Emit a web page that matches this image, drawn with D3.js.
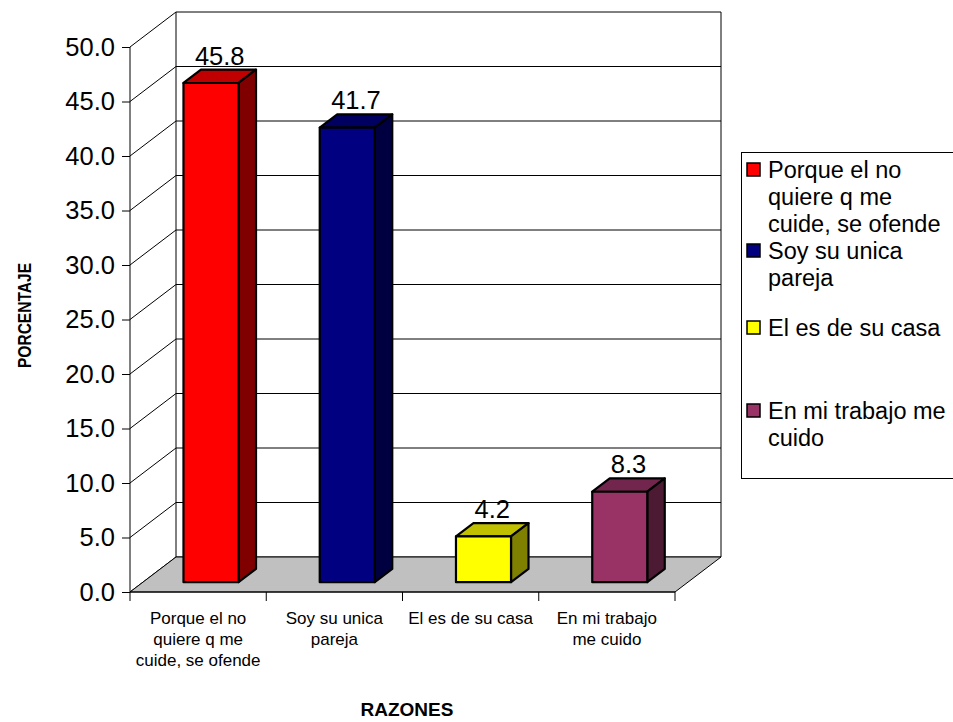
<!DOCTYPE html>
<html>
<head>
<meta charset="utf-8">
<script src="https://cdn.jsdelivr.net/npm/d3@7"></script>
<style>
  html, body { margin: 0; padding: 0; background: #fff; }
  svg { display: block; font-family: Arial, "Liberation Sans", sans-serif; }
</style>
</head>
<body>
<svg id="chart" width="953" height="722"></svg>
<script>
// Reasons and their percentages
const categories = [
  "Porque el no quiere q me cuide, se ofende",
  "Soy su unica pareja",
  "El es de su casa",
  "En mi trabajo me cuido"
];
const axisLabelLines = [
  ["Porque el no", "quiere q me", "cuide, se ofende"],
  ["Soy su unica", "pareja"],
  ["El es de su casa"],
  ["En mi trabajo", "me cuido"]
];
const legendLines = [
  ["Porque el no", "quiere q me", "cuide, se ofende"],
  ["Soy su unica", "pareja"],
  ["El es de su casa"],
  ["En mi trabajo me", "cuido"]
];
const values = [45.8, 41.7, 4.2, 8.3];
const yTicks = [0, 5, 10, 15, 20, 25, 30, 35, 40, 45, 50];

// face colours per bar: front, top, side
const frontColors = ["#ff0000", "#000080", "#ffff00", "#993366"];
const topColors   = ["#c00000", "#000060", "#c0c000", "#73264d"];
const sideColors  = ["#800000", "#000040", "#808000", "#4d1a33"];

const FONT = "Arial, 'Liberation Sans', sans-serif";
const svg = d3.select("#chart");

// plot frame (front plane)
const x0 = 130, x1 = 675;
const yBase = 592, yTop = 47;
// full depth offset of the 3D box
const DX = 46, DY = -35;
// depth of the bars inside the box (fraction of full depth)
const zFront = 0.28, zBack = 0.66;

const y = d3.scaleLinear().domain([0, 50]).range([yBase, yTop]);
const x = d3.scaleBand().domain(categories).range([x0, x1])
  .paddingInner(0.596).paddingOuter(0.298);

const P = (px, v, z) => [px + DX * z, y(v) + DY * z];
const poly = pts => "M" + pts.map(p => p.join(",")).join("L") + "Z";

// back wall
svg.append("path")
  .attr("d", poly([P(x0, 0, 1), P(x1, 0, 1), P(x1, 50, 1), P(x0, 50, 1)]))
  .attr("fill", "#fff").attr("stroke", "#000").attr("stroke-width", 1);

// gridlines on back wall and left wall
const grid = svg.append("g").attr("stroke", "#000").attr("stroke-width", 1).attr("fill", "none");
yTicks.forEach(t => {
  if (t > 0 && t < 50) {
    const a = P(x0, t, 1), b = P(x1, t, 1);
    grid.append("line").attr("x1", a[0]).attr("y1", a[1]).attr("x2", b[0]).attr("y2", b[1]);
  }
  const c = P(x0, t, 0), d = P(x0, t, 1);
  grid.append("line").attr("x1", c[0]).attr("y1", c[1]).attr("x2", d[0]).attr("y2", d[1]);
});

// floor
svg.append("path")
  .attr("d", poly([P(x0, 0, 0), P(x1, 0, 0), P(x1, 0, 1), P(x0, 0, 1)]))
  .attr("fill", "#c0c0c0").attr("stroke", "#000").attr("stroke-width", 1);

// bars
const bars = svg.append("g").attr("stroke", "#000").attr("stroke-width", 2.2).attr("stroke-linejoin", "round");
categories.forEach((c, i) => {
  const l = x(c), r = x(c) + x.bandwidth(), v = values[i];
  const g = bars.append("g");
  g.append("path").attr("fill", topColors[i])
    .attr("d", poly([P(l, v, zFront), P(r, v, zFront), P(r, v, zBack), P(l, v, zBack)]));
  g.append("path").attr("fill", sideColors[i])
    .attr("d", poly([P(r, 0, zFront), P(r, 0, zBack), P(r, v, zBack), P(r, v, zFront)]));
  g.append("path").attr("fill", frontColors[i])
    .attr("d", poly([P(l, 0, zFront), P(r, 0, zFront), P(r, v, zFront), P(l, v, zFront)]));
  // value label over the centre of the bar's top face
  const zMid = (zFront + zBack) / 2;
  const top = P((l + r) / 2, v, zBack);
  svg.append("text")
    .attr("x", (l + r) / 2 + DX * zMid)
    .attr("y", top[1] - 5)
    .attr("text-anchor", "middle")
    .attr("font-size", 25.5)
    .attr("fill", "#000")
    .text(v.toFixed(1));
});

// value axis
const yAxis = d3.axisLeft(y).tickValues(yTicks).tickFormat(d3.format(".1f")).tickSize(8).tickPadding(7);
const ga = svg.append("g").attr("transform", `translate(${x0},0)`).call(yAxis);
ga.select(".domain").attr("stroke", "#000").attr("d", `M0,${yTop}V${yBase}`);
ga.selectAll(".tick line").attr("stroke", "#000");
ga.selectAll(".tick text").attr("font-size", 25.5).attr("fill", "#000").attr("font-family", FONT);

// category axis
const xAxis = d3.axisBottom(x).tickSize(0).tickFormat("");
const gx = svg.append("g").attr("transform", `translate(0,${yBase})`).call(xAxis);
gx.select(".domain").attr("stroke", "#000").attr("d", `M${x0},0H${x1}`);
const step = x.step();
d3.range(categories.length + 1).forEach(k => {
  const px = x0 + k * step;
  gx.append("line").attr("x1", px).attr("x2", px).attr("y1", 0).attr("y2", 9).attr("stroke", "#000");
});
categories.forEach((c, i) => {
  const t = svg.append("text")
    .attr("text-anchor", "middle")
    .attr("font-size", 17)
    .attr("fill", "#000");
  axisLabelLines[i].forEach((line, j) => {
    t.append("tspan").attr("x", x(c) + x.bandwidth() / 2).attr("y", 624 + j * 21).text(line);
  });
});

// axis titles
svg.append("text")
  .attr("transform", "translate(31,315.5) rotate(-90)")
  .attr("text-anchor", "middle").attr("font-size", 18).attr("font-weight", "bold")
  .attr("textLength", 105).attr("lengthAdjust", "spacingAndGlyphs")
  .text("PORCENTAJE");
svg.append("text")
  .attr("x", 407).attr("y", 716)
  .attr("text-anchor", "middle").attr("font-size", 19).attr("font-weight", "bold")
  .text("RAZONES");

// legend
const legend = svg.append("g");
legend.append("rect").attr("x", 741.5).attr("y", 152.5).attr("width", 215).attr("height", 326)
  .attr("fill", "#fff").attr("stroke", "#000").attr("stroke-width", 1);
const itemTop = [163, 244, 321, 404];
categories.forEach((c, i) => {
  legend.append("rect").attr("x", 747).attr("y", itemTop[i]).attr("width", 13).attr("height", 13)
    .attr("fill", frontColors[i]).attr("stroke", "#000").attr("stroke-width", 1.5);
  const t = legend.append("text").attr("font-size", 23.5).attr("fill", "#000");
  legendLines[i].forEach((line, j) => {
    t.append("tspan").attr("x", 768).attr("y", itemTop[i] + 15 + j * 27).text(line);
  });
});
</script>
</body>
</html>
